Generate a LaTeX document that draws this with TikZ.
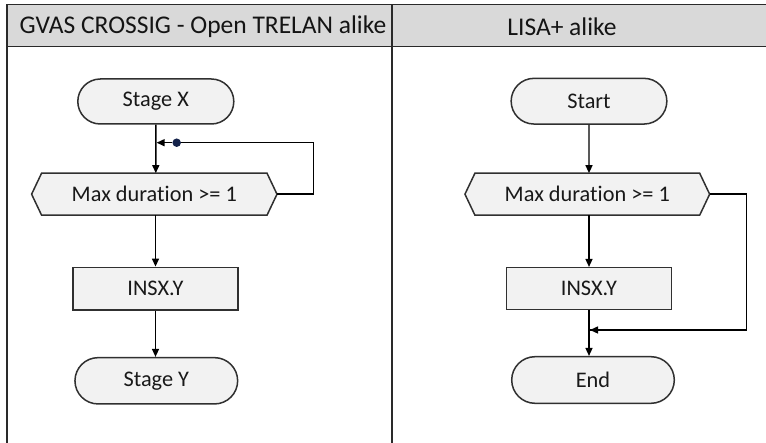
\documentclass[tikz,border=0pt]{standalone}
\usepackage{fontspec}
\setmainfont{Carlito}[Ligatures=NoCommon]
\usetikzlibrary{shapes.misc,arrows.meta,backgrounds,calc}
\definecolor{headfill}{HTML}{D9D9D9}
\definecolor{shapefill}{HTML}{F2F2F2}
\definecolor{shapeline}{HTML}{303030}
\definecolor{frameline}{HTML}{2A2A2A}
\definecolor{dotcol}{HTML}{14224A}
\begin{document}
\begin{tikzpicture}[x=1pt,y=-1pt,
  box/.style={draw=shapeline, fill=shapefill, line width=1.5pt, inner sep=0pt,
    font=\fontsize{22.3}{26}\selectfont, text=black!90},
  term/.style={box, rounded rectangle},
  proc/.style={box, rectangle},
  decn/.style={rectangle, inner sep=0pt, minimum height=41.7pt,
    font=\fontsize{22.3}{26}\selectfont, text=black!90},
  hexa/.style={draw=shapeline, fill=shapefill, line width=1.5pt},
  arr/.style={-{Triangle[length=8pt,width=7pt]}, line width=1.4pt, black},
  conn/.style={line width=1.4pt, black},
  frame/.style={draw=frameline, line width=1.6pt},
  headtext/.style={inner sep=0pt, font=\fontsize{25.5}{30}\selectfont, text=black!92}]
\useasboundingbox (0,0) rectangle (766,443);

% header and frame
\fill[headfill] (6.7,4.5) rectangle (766,46.5);
\draw[frame] (6.7,443) -- (6.7,4.5) -- (766,4.5);
\draw[frame] (6.7,46.5) -- (766,46.5);
\draw[frame] (391.7,4.5) -- (391.7,443);
\node[headtext] (h1) at (203,26.5) {GVAS CROSSIG - Open TRELAN alike};
\node[headtext] (h2) at (562,26.5) {LISA+ alike};

% left column
\node[term, minimum width=156pt, minimum height=45pt] (stageX) at (155.8,101.5) {Stage X};
\node[decn, minimum width=225pt] (dec1) at (154.3,194.2) {Max duration >= 1};
\node[proc, minimum width=165pt, minimum height=42.7pt] (insx1) at (155.5,288.7) {INSX.Y};
\node[term, minimum width=162.7pt, minimum height=46.3pt] (stageY) at (156.3,380.8) {Stage Y};
\coordinate (d1e) at ($(dec1.east)+(10,0)$);
\coordinate (d1w) at ($(dec1.west)+(-10,0)$);
\begin{scope}[on background layer]
\filldraw[hexa] (dec1.north west) -- (dec1.north east) -- (d1e) -- (dec1.south east) -- (dec1.south west) -- (d1w) -- cycle;
\end{scope}
\node[circle, fill=dotcol, inner sep=0pt, minimum size=8.5pt] (dot1) at (176.7,142.7) {};
\coordinate (j1) at (156.6,142.7);

\draw[arr] (stageX) -- (stageX |- dec1.north);
\draw[arr] (dec1.south -| insx1) -- (insx1);
\draw[arr] (insx1) -- (insx1 |- stageY.north);
\draw[conn] (d1e) -- ++(36.6,0) |- (dot1);
\draw[arr] (dot1) -- (j1);

% right column
\node[term, minimum width=155.7pt, minimum height=45.7pt] (start) at (589,101.2) {Start};
\node[decn, minimum width=224.3pt] (dec2) at (587.3,194.2) {Max duration >= 1};
\node[proc, minimum width=164.7pt, minimum height=41.6pt] (insx2) at (589,288.5) {INSX.Y};
\node[term, minimum width=162.6pt, minimum height=46.6pt] (end) at (593,380) {End};
\coordinate (d2e) at ($(dec2.east)+(10,0)$);
\coordinate (d2w) at ($(dec2.west)+(-10,0)$);
\begin{scope}[on background layer]
\filldraw[hexa] (dec2.north west) -- (dec2.north east) -- (d2e) -- (dec2.south east) -- (dec2.south west) -- (d2w) -- cycle;
\end{scope}
\coordinate (j2) at (590,330);

\draw[arr] (start) -- (start |- dec2.north);
\draw[arr] (dec2.south -| insx2) -- (insx2);
\draw[arr] (insx2) -- (insx2 |- end.north);
\draw[conn] (d2e) -- ++(36.7,0) |- (j2);
\draw[arr] ($(j2)+(8,0)$) -- (j2);
\end{tikzpicture}
\end{document}
